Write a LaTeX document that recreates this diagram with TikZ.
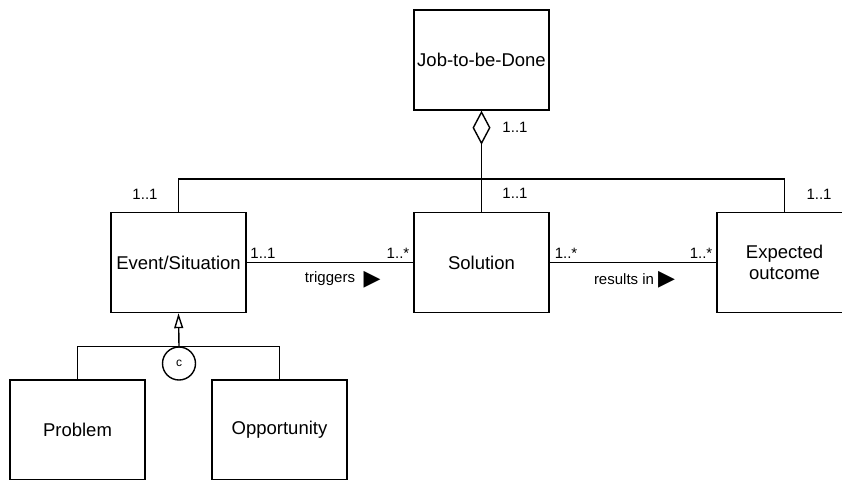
\documentclass[tikz,border=0pt]{standalone}
\usepackage{fontspec}
\setmainfont{Liberation Sans}
\newfontfamily\symfont{DejaVu Sans}
\usetikzlibrary{arrows.meta}

\tikzset{
  cls/.style={draw, line width=1.4pt, fill=white, minimum width=135pt, minimum height=100pt,
    inner sep=2pt, align=center, font=\fontsize{18.5}{21.5}\selectfont},
  lbl/.style={inner sep=0pt, font=\fontsize{15}{17}\selectfont},
  link/.style={line width=1.4pt},
  tri/.style={font=\symfont\fontsize{22}{22}\selectfont}
}

\begin{document}
\begin{tikzpicture}[x=1pt, y=-1pt]
  \useasboundingbox (0,0) rectangle (842,479);
  \clip (0,0) rectangle (842,479);

  % classes
  \node[cls] (job) at (481.5,60)    {Job-to-be-Done};
  \node[cls] (ev)  at (178.5,262.5) {Event/Situation};
  \node[cls] (sol) at (481.5,262.5) {Solution};
  \node[cls] (exp) at (784.5,262.5) {Expected\\outcome};
  \node[cls] (prob) at (77.5,430)   {Problem};
  \node[cls] (opp)  at (279.5,430)  {Opportunity};

  % aggregation of the job
  \coordinate (bar) at (481.5,179);
  \draw[link, -{Diamond[open, length=34pt, width=18pt, line width=1.4pt]}] (sol.north) -- (job.south);
  \draw[link] (ev.north) |- (bar) -| (exp.north);

  % associations
  \draw[link] (ev.east) -- (sol.west);
  \draw[link] (sol.east) -- (exp.west);

  % complete generalization
  \node[draw, circle, line width=1.4pt, fill=white, minimum size=33pt, inner sep=0pt,
        font=\fontsize{12}{14}\selectfont] (cmp) at (179,363.5) {c};
  \draw[link, -{Triangle[open, length=15pt, width=9pt, line width=1.4pt]}] (cmp.north) -- (ev.south);
  \draw[link] (prob.north) |- (cmp.north) -| (opp.north);

  % multiplicities
  \node[lbl] at (515,127) {1..1};
  \node[lbl] at (515,193) {1..1};
  \node[lbl] at (145,194) {1..1};
  \node[lbl] at (819,194) {1..1};
  \node[lbl] at (263,253) {1..1};
  \node[lbl] at (398,253) {1..*};
  \node[lbl] at (566,253) {1..*};
  \node[lbl] at (701,253) {1..*};

  % association names
  \node[lbl] at (330,279) {triggers};
  \node[lbl, tri] at (372,280) {▶};
  \node[lbl] at (624,279) {results in};
  \node[lbl, tri] at (666.5,280) {▶};
\end{tikzpicture}
\end{document}
